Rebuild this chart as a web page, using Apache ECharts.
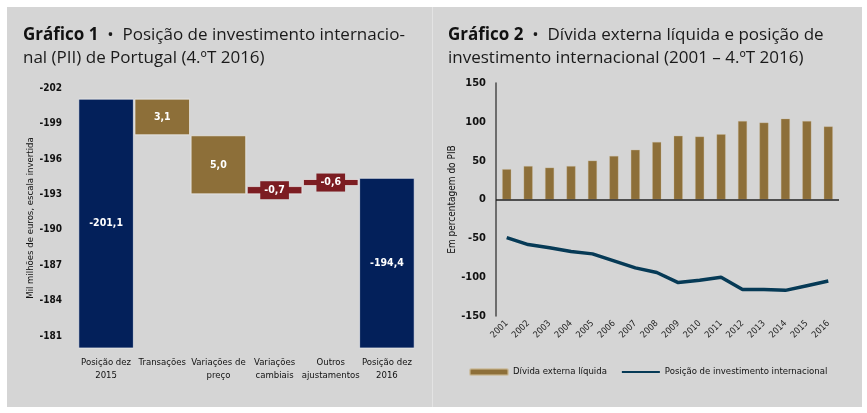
<!DOCTYPE html>
<html>
<head>
<meta charset="utf-8">
<script src="https://cdn.jsdelivr.net/npm/echarts@6/dist/echarts.min.js"></script>
<style>
html,body{margin:0;padding:0;background:#ffffff;}
#c{width:867px;height:413px;}
</style>
</head>
<body>
<div id="c"></div>
<script>
// ---- Gráfico 1 (waterfall) ----
const wfCategories = ['Posição dez\n2015', 'Transações', 'Variações de\npreço', 'Variações\ncambiais', 'Outros\najustamentos', 'Posição dez\n2016'];
const wfValues = [-201.1, 3.1, 5.0, -0.7, -0.6, -194.4];
const wfKinds = ['total', 'change', 'change', 'change', 'change', 'total'];
const wfLabels = ['-201,1', '3,1', '5,0', '-0,7', '-0,6', '-194,4'];
const wfTicks = [-202, -199, -196, -193, -190, -187, -184, -181];

// ---- Gráfico 2 ----
const years = ['2001','2002','2003','2004','2005','2006','2007','2008','2009','2010','2011','2012','2013','2014','2015','2016'];
const netDebt = [39, 43, 41, 43, 50, 56, 64, 74, 82, 81, 84, 101, 99, 104, 101, 94];
const iip = [-49, -58, -62, -67, -70, -79, -88, -94, -107, -104, -100, -116, -116, -117, -111, -105];
const axis2Ticks = [-150, -100, -50, 0, 50, 100, 150];

const NAVY = '#03205a', GOLD = '#8d6f39', RED = '#7c1d22', LINE = '#063a56';
const NARROW = '"DejaVu Sans Condensed", sans-serif';
const OPEN = '"Open Sans", sans-serif';

// waterfall bases
let running = 0;
const baseData = [], barData = [];
wfValues.forEach((v, i) => {
  if (wfKinds[i] === 'total') {
    baseData.push(0);
    barData.push(v);
    running = v;
  } else {
    const next = running + v;
    const hi = Math.max(running, next), lo = Math.min(running, next);
    baseData.push(hi);
    barData.push(+(lo - hi).toFixed(2));
    running = next;
  }
});
const barItems = barData.map((v, i) => {
  let color = NAVY;
  if (wfKinds[i] !== 'total') color = wfValues[i] > 0 ? GOLD : RED;
  const item = { value: v, itemStyle: { color: color } };
  if (color === RED) {
    item.label = { backgroundColor: RED, padding: [4, 4, 3, 4] };
  }
  return item;
});

const chart = echarts.init(document.getElementById('c'));
chart.setOption({
  animation: false,
  backgroundColor: '#ffffff',
  graphic: [
    { type: 'rect', shape: { x: 7, y: 7, width: 855, height: 400 }, style: { fill: '#d5d5d5' }, z: -10 },
    { type: 'rect', shape: { x: 432, y: 7, width: 1, height: 400 }, style: { fill: '#e3e3e3' }, z: -9 }
  ],
  title: [
    {
      left: 18, top: 19,
      text: '{b|Gráfico 1}{n|  •  Posição de investimento internacio-}\n{n|nal (PII) de Portugal (4.ºT 2016)}',
      textStyle: {
        fontWeight: 'normal',
        rich: {
          b: { fontFamily: OPEN, fontWeight: 'bold', fontSize: 17, color: '#111', lineHeight: 23 },
          n: { fontFamily: OPEN, fontWeight: 'normal', fontSize: 17, color: '#1a1a1a', lineHeight: 23 }
        }
      }
    },
    {
      left: 443, top: 19,
      text: '{b|Gráfico 2}{n|  •  Dívida externa líquida e posição de}\n{n|investimento internacional (2001 – 4.ºT 2016)}',
      textStyle: {
        fontWeight: 'normal',
        rich: {
          b: { fontFamily: OPEN, fontWeight: 'bold', fontSize: 17, color: '#111', lineHeight: 23 },
          n: { fontFamily: OPEN, fontWeight: 'normal', fontSize: 17, color: '#1a1a1a', lineHeight: 23 }
        }
      }
    }
  ],
  legend: {
    data: [
      { name: 'Dívida externa líquida' },
      { name: 'Posição de investimento internacional', itemStyle: { opacity: 0 } }
    ],
    left: 469, top: 367, width: 600, orient: 'horizontal', padding: 0,
    itemWidth: 38, itemHeight: 6, itemGap: 14,
    textStyle: { fontFamily: NARROW, fontSize: 9.5, color: '#111' }
  },
  grid: [
    { left: 78, right: 452, top: 88, bottom: 65 },
    { left: 496, right: 28, top: 83, bottom: 97 }
  ],
  xAxis: [
    {
      gridIndex: 0, type: 'category', data: wfCategories,
      axisLine: { show: false }, axisTick: { show: false },
      axisLabel: { fontFamily: NARROW, fontSize: 9.5, color: '#111', lineHeight: 13, margin: 8, interval: 0 }
    },
    {
      gridIndex: 1, type: 'category', data: years,
      axisLine: { show: false }, axisTick: { show: false },
      axisLabel: { fontFamily: NARROW, fontSize: 9, color: '#222', rotate: 45, margin: 6, interval: 0 }
    }
  ],
  yAxis: [
    {
      gridIndex: 0, type: 'value', inverse: true, min: -202, max: -180,
      name: 'Mil milhões de euros, escala invertida', nameLocation: 'middle', nameGap: 42, nameRotate: 90,
      nameTextStyle: { fontFamily: NARROW, fontSize: 9.5, color: '#111' },
      splitLine: { show: false }, axisLine: { show: false }, axisTick: { show: false },
      axisLabel: { customValues: wfTicks, fontFamily: NARROW, fontSize: 10, fontWeight: 'bold', color: '#111', margin: 16 }
    },
    {
      gridIndex: 1, type: 'value', min: -150, max: 150, interval: 50,
      name: 'Em percentagem do PIB', nameLocation: 'middle', nameGap: 36, nameRotate: 90,
      nameTextStyle: { fontFamily: NARROW, fontSize: 10, color: '#111' },
      splitLine: { show: false },
      axisLine: { show: true, onZero: false, lineStyle: { color: '#4a4a4a', width: 1.5 } },
      axisTick: { show: false },
      axisLabel: { customValues: axis2Ticks, fontFamily: NARROW, fontSize: 11, fontWeight: 'bold', color: '#111', margin: 10 }
    }
  ],
  series: [
    {
      type: 'bar', xAxisIndex: 0, yAxisIndex: 0, stack: 'wf', data: baseData,
      itemStyle: { color: 'transparent' }, silent: true, barCategoryGap: '1%'
    },
    {
      type: 'bar', xAxisIndex: 0, yAxisIndex: 0, stack: 'wf', data: barItems,
      barCategoryGap: '1%',
      itemStyle: { borderColor: 'rgba(240,240,240,0.7)', borderWidth: 1 },
      label: {
        show: true, position: 'inside', color: '#ffffff', fontFamily: NARROW, fontSize: 10.5, fontWeight: 'bold',
        formatter: p => wfLabels[p.dataIndex]
      }
    },
    {
      name: 'Dívida externa líquida', type: 'bar', xAxisIndex: 1, yAxisIndex: 1, data: netDebt,
      barWidth: 9, itemStyle: { color: GOLD, borderColor: 'rgba(200,180,140,0.6)', borderWidth: 0.5 },
      markLine: {
        silent: true, symbol: 'none', label: { show: false },
        lineStyle: { color: '#222', width: 1.5, type: 'solid' },
        data: [{ yAxis: 0 }]
      }
    },
    {
      name: 'Posição de investimento internacional', type: 'line', xAxisIndex: 1, yAxisIndex: 1, data: iip,
      symbol: 'none', lineStyle: { color: LINE, width: 3.5 }, itemStyle: { color: LINE }
    }
  ]
});
</script>
</body>
</html>
